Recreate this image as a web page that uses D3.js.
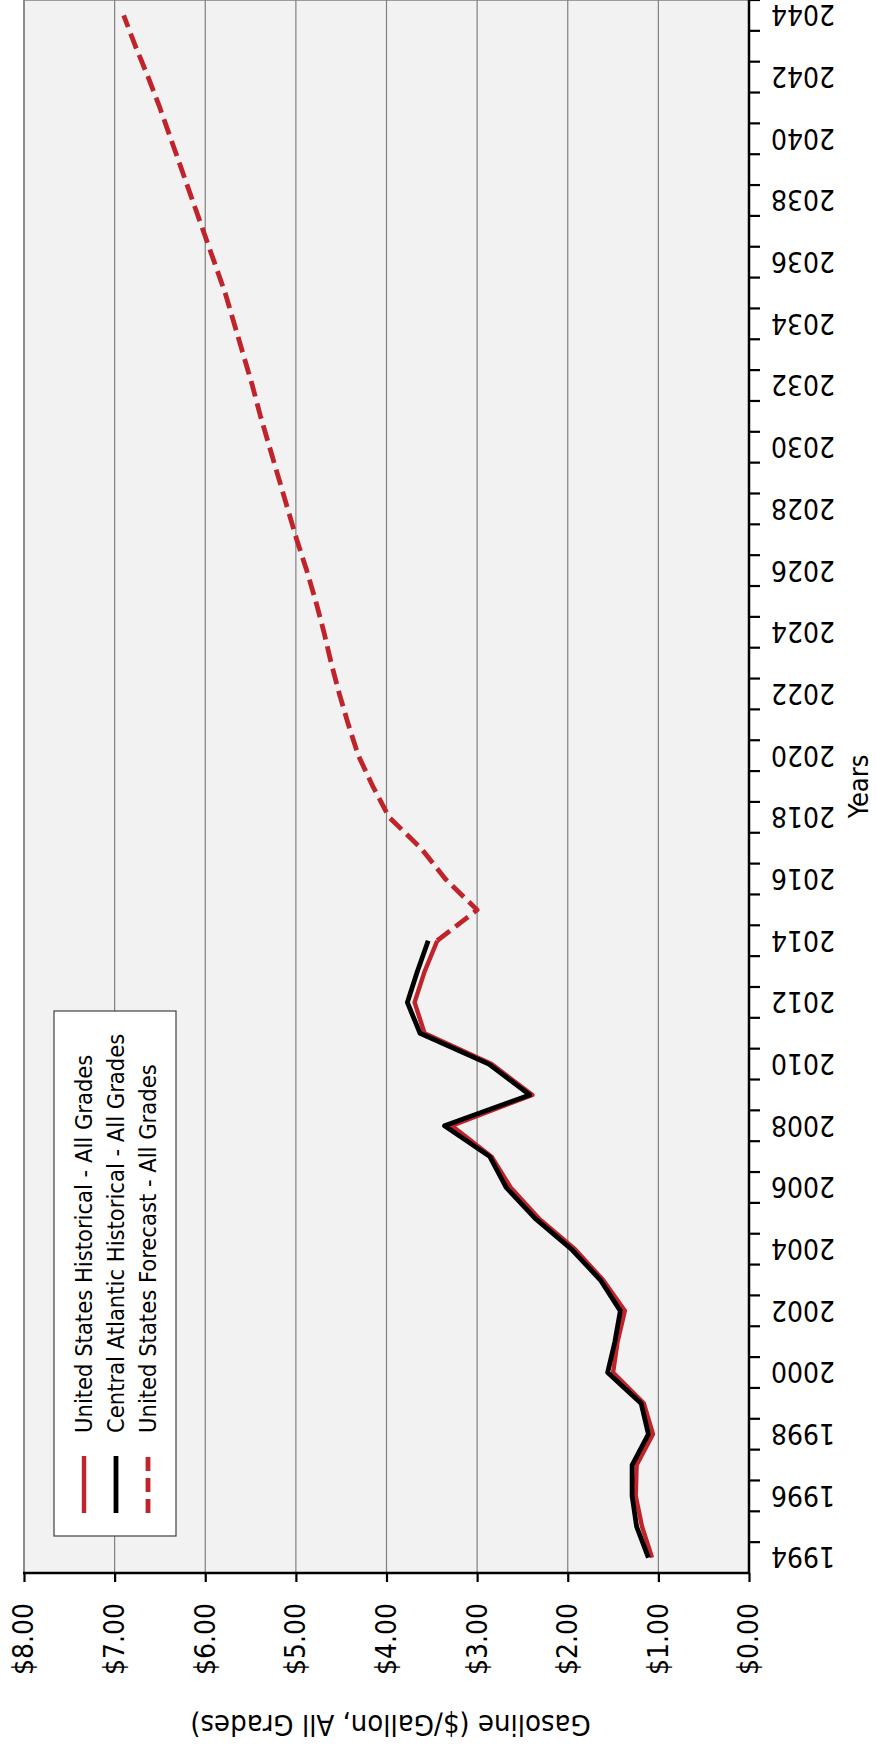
<!DOCTYPE html>
<html>
<head>
<meta charset="utf-8">
<script src="https://cdn.jsdelivr.net/npm/d3@7"></script>
<style>
  body { margin: 0; background: #fff; }
  svg { display: block; font-family: "DejaVu Sans Condensed", "DejaVu Sans", sans-serif; font-stretch: condensed; }
</style>
</head>
<body>
<div id="chart"></div>
<script>
// years on the category axis
const years = d3.range(1994, 2045);
const histYears = d3.range(1994, 2015);
const forecastYears = d3.range(2014, 2045);

// United States historical, all grades ($/gallon)
const usHistorical = [1.07, 1.18, 1.25, 1.24, 1.06, 1.16, 1.50, 1.45, 1.37, 1.61,
    1.92, 2.32, 2.63, 2.84, 3.28, 2.39, 2.84, 3.58, 3.69, 3.58, 3.44];

// Central Atlantic historical, all grades
const caHistorical = [1.11, 1.24, 1.29, 1.29, 1.11, 1.19, 1.56, 1.48, 1.42, 1.64,
    1.96, 2.36, 2.68, 2.86, 3.36, 2.42, 2.87, 3.63, 3.77, 3.66, 3.54];

// United States forecast, all grades (starts at last historical year)
const usForecast = [3.44, 3.00, 3.35, 3.62, 3.97, 4.15, 4.31, 4.42, 4.52, 4.61,
    4.69, 4.78, 4.88, 4.99, 5.09, 5.19, 5.29, 5.39, 5.48, 5.58,
    5.68, 5.78, 5.90, 6.02, 6.14, 6.26, 6.38, 6.50, 6.63, 6.77, 6.90];

const valueTicks = [0, 1, 2, 3, 4, 5, 6, 7, 8];
const legendLabels = [
    "United States Historical - All Grades",
    "Central Atlantic Historical - All Grades",
    "United States Forecast - All Grades"
];

const RED = "#c1232b";

class RotatedLineChart {
    constructor(_config) {
        this.config = {
            parentElement: _config.parentElement,
            containerWidth: _config.containerWidth || 876,
            containerHeight: _config.containerHeight || 1748,
            // plot box of the un-rotated chart (its width is the page height)
            plot: {left: 175, right: 1748, top: 24, bottom: 749}
        };
        this.initVis();
    }

    initVis() {
        let vis = this;
        const p = vis.config.plot;

        vis.svg = d3.select(vis.config.parentElement).append('svg')
            .attr('width', vis.config.containerWidth)
            .attr('height', vis.config.containerHeight);

        // draw a normal horizontal chart, then turn it a quarter turn
        vis.chart = vis.svg.append('g')
            .attr('transform', `translate(0,${vis.config.containerHeight}) rotate(-90)`);

        vis.xScale = d3.scaleBand().domain(years).range([p.left, p.right]).padding(0);
        vis.yScale = d3.scaleLinear().domain([0, 8]).range([p.bottom, p.top]);

        vis.renderVis();
    }

    renderVis() {
        let vis = this;
        const p = vis.config.plot;
        const x = vis.xScale, y = vis.yScale;
        const bw = x.bandwidth();
        const cx = d => x(d) + bw / 2;

        // plot background
        vis.chart.append('rect')
            .attr('x', p.left).attr('y', p.top)
            .attr('width', p.right - p.left).attr('height', p.bottom - p.top)
            .attr('fill', '#f2f2f2')
            .attr('stroke', '#808080').attr('stroke-width', 1.5);

        // gridlines
        vis.chart.append('g')
            .selectAll('line')
            .data(valueTicks.filter(d => d > 0))
            .join('line')
            .attr('x1', p.left).attr('x2', p.right)
            .attr('y1', d => y(d)).attr('y2', d => y(d))
            .attr('stroke', '#808080').attr('stroke-width', 1.2);

        // value axis
        const yAxis = d3.axisLeft(y)
            .tickValues(valueTicks)
            .tickFormat(d => '$' + d.toFixed(2))
            .tickSize(9)
            .tickPadding(21);
        const yAxisG = vis.chart.append('g')
            .attr('transform', `translate(${p.left},0)`)
            .call(yAxis);
        yAxisG.select('.domain').remove();
        yAxisG.selectAll('.tick line').attr('stroke', '#000').attr('stroke-width', 2.2);
        yAxisG.selectAll('.tick text')
            .attr('font-size', 28)
            .attr('fill', '#000');
        yAxisG.attr('font-family', null).attr('font-size', null);
        vis.chart.append('line')
            .attr('x1', p.left).attr('x2', p.left)
            .attr('y1', p.top - 1).attr('y2', p.bottom + 1)
            .attr('stroke', '#000').attr('stroke-width', 2.5);

        // category axis: ticks between categories, labels every other year
        vis.chart.append('g')
            .selectAll('line')
            .data(years.slice(1).concat(['end']))
            .join('line')
            .attr('x1', d => d === 'end' ? p.right : x(d))
            .attr('x2', d => d === 'end' ? p.right : x(d))
            .attr('y1', p.bottom).attr('y2', p.bottom + 11)
            .attr('stroke', '#000').attr('stroke-width', 2.2);
        vis.chart.append('line')
            .attr('x1', p.left - 1).attr('x2', p.right)
            .attr('y1', p.bottom).attr('y2', p.bottom)
            .attr('stroke', '#000').attr('stroke-width', 2.5);
        vis.chart.append('g')
            .selectAll('text')
            .data(years.filter(d => (d - 1994) % 2 === 0))
            .join('text')
            .attr('transform', d => `translate(${cx(d)},${p.bottom + 22}) rotate(-90)`)
            .attr('text-anchor', 'end')
            .attr('dy', '0.36em')
            .attr('font-size', 28)
            .text(d => d);

        // axis titles
        vis.chart.append('text')
            .attr('transform', `translate(33,${(p.top + p.bottom) / 2 + 4}) rotate(-90)`)
            .attr('text-anchor', 'middle')
            .attr('font-size', 29)
            .text('Gasoline ($/Gallon, All Grades)');
        vis.chart.append('text')
            .attr('x', (p.left + p.right) / 2)
            .attr('y', 868)
            .attr('text-anchor', 'middle')
            .attr('font-size', 27)
            .text('Years');

        // lines
        const line = d3.line().x(d => cx(d[0])).y(d => y(d[1]));
        const series = [
            {data: d3.zip(histYears, usHistorical), color: RED, width: 4.4, dash: null},
            {data: d3.zip(histYears, caHistorical), color: '#000', width: 4.8, dash: null},
            {data: d3.zip(forecastYears, usForecast), color: RED, width: 4.8, dash: '16,7'}
        ];
        vis.chart.append('g')
            .selectAll('path')
            .data(series)
            .join('path')
            .attr('d', d => line(d.data))
            .attr('fill', 'none')
            .attr('stroke', d => d.color)
            .attr('stroke-width', d => d.width)
            .attr('stroke-dasharray', d => d.dash)
            .attr('stroke-linejoin', 'round');

        // legend
        const legend = vis.chart.append('g');
        legend.append('rect')
            .attr('x', 212).attr('y', 54)
            .attr('width', 525).attr('height', 122)
            .attr('fill', '#fff')
            .attr('stroke', '#404040').attr('stroke-width', 1.2);
        const rows = legend.selectAll('g')
            .data(legendLabels.map((label, i) => ({label, s: series[i]})))
            .join('g')
            .attr('transform', (d, i) => `translate(0,${84 + i * 32})`);
        rows.append('line')
            .attr('x1', 235).attr('x2', 292)
            .attr('stroke', d => d.s.color)
            .attr('stroke-width', d => d.s.width)
            .attr('stroke-dasharray', d => d.s.dash ? '14,7' : null);
        rows.append('text')
            .attr('x', 315)
            .attr('dy', '0.36em')
            .attr('font-size', 23.5)
            .text(d => d.label);
    }
}

new RotatedLineChart({parentElement: '#chart', containerWidth: 876, containerHeight: 1748});
</script>
</body>
</html>
